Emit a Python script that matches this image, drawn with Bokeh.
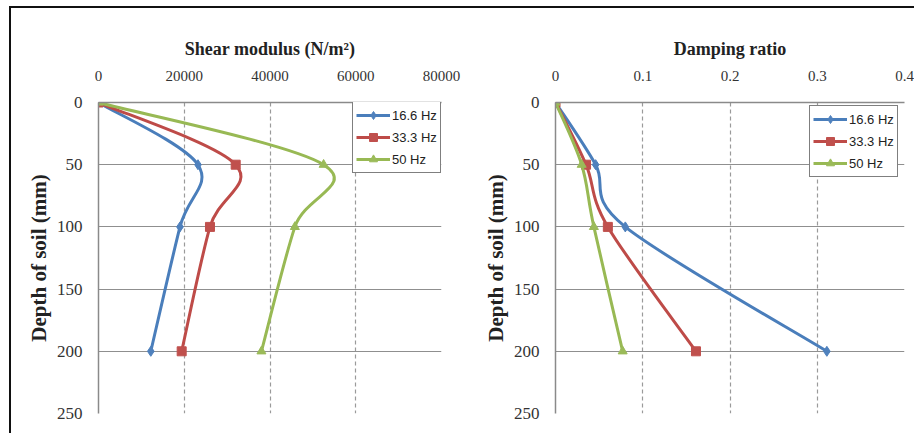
from bokeh.plotting import figure
from bokeh.models import (Range1d, FixedTicker, Legend, LegendItem, ColumnDataSource,
                          NumeralTickFormatter)
from bokeh.layouts import row
from bokeh.embed import file_html
from bokeh.resources import INLINE

# ---- data ----
depth = [0, 50, 100, 200]
series_names = ["16.6 Hz", "33.3 Hz", "50 Hz"]
shear_16 = [0, 23200, 19000, 12200]
shear_33 = [0, 32000, 26000, 19400]
shear_50 = [0, 52500, 45800, 38000]
damp_16 = [0, 0.046, 0.080, 0.311]
damp_33 = [0, 0.035, 0.060, 0.161]
damp_50 = [0, 0.030, 0.044, 0.077]
shear_ticks = [0, 20000, 40000, 60000, 80000]
damp_ticks = [0, 0.1, 0.2, 0.3, 0.4]
depth_ticks = [0, 50, 100, 150, 200, 250]

line_colors = ["#4A7EBB", "#BE4B48", "#98B954"]
marker_colors = ["#4F81BD", "#C0504D", "#9BBB59"]
markers = ["diamond", "square", "triangle"]
marker_sizes = [10, 9, 9]


def smooth_source(xs, ys):
    """Excel-like smoothed line: cubic Bezier segments through the data points."""
    n = len(xs)
    d = dict(x0=[], y0=[], x1=[], y1=[], cx0=[], cy0=[], cx1=[], cy1=[])
    for i in range(n - 1):
        im = i - 1 if i > 0 else i
        i2 = i + 2 if i + 2 < n else i + 1
        d["x0"].append(xs[i]); d["y0"].append(ys[i])
        d["x1"].append(xs[i + 1]); d["y1"].append(ys[i + 1])
        d["cx0"].append(xs[i] + (xs[i + 1] - xs[im]) / 6.0)
        d["cy0"].append(ys[i] + (ys[i + 1] - ys[im]) / 6.0)
        d["cx1"].append(xs[i + 1] - (xs[i2] - xs[i]) / 6.0)
        d["cy1"].append(ys[i + 1] - (ys[i2] - ys[i]) / 6.0)
    return ColumnDataSource(d)


SERIF = "Liberation Serif"
NAN = float("nan")


def make_fig(title, xmax, xticks, fmt, series, min_left, frame_w, min_right, leg_loc):
    p = figure(frame_width=frame_w, frame_height=311,
               min_border_left=min_left, min_border_right=min_right,
               min_border_top=94, min_border_bottom=20,
               x_range=Range1d(0, xmax), y_range=Range1d(250, 0),
               x_axis_location="above", output_backend="svg",
               toolbar_location=None, background_fill_color="white",
               border_fill_color="white", outline_line_color=None)
    p.title.text = title
    p.title.align = "center"
    p.title.text_font = SERIF
    p.title.text_font_style = "bold"
    p.title.text_font_size = "18px"
    p.title.text_color = "#222222"
    p.title.standoff = 17

    xa = p.xaxis[0]
    xa.ticker = FixedTicker(ticks=xticks)
    xa.formatter = NumeralTickFormatter(format=fmt)
    xa.major_label_text_font = SERIF
    xa.major_label_text_font_size = "15px"
    xa.major_label_text_color = "#333333"
    xa.major_label_standoff = 16
    xa.major_tick_line_color = None
    xa.minor_tick_line_color = None
    xa.axis_line_color = "#8a8a8a"
    xa.axis_line_width = 1.5

    ya = p.yaxis[0]
    ya.ticker = FixedTicker(ticks=depth_ticks)
    ya.major_label_text_font = SERIF
    ya.major_label_text_font_size = "17px"
    ya.major_label_text_color = "#333333"
    ya.major_label_standoff = 10
    ya.major_tick_line_color = None
    ya.minor_tick_line_color = None
    ya.axis_line_color = "#8a8a8a"
    ya.axis_line_width = 1.5
    ya.axis_label = "Depth of soil (mm)"
    ya.axis_label_text_font = SERIF
    ya.axis_label_text_font_style = "bold"
    ya.axis_label_text_font_size = "21px"
    ya.axis_label_text_color = "#222222"
    ya.axis_label_standoff = 3

    p.xgrid.ticker = FixedTicker(ticks=xticks[1:])
    p.xgrid.grid_line_color = "#9a9a9a"
    p.xgrid.grid_line_dash = "4 3"
    p.xgrid.grid_line_width = 1.2
    p.ygrid.ticker = FixedTicker(ticks=depth_ticks[1:])
    p.ygrid.grid_line_color = "#8f8f8f"
    p.ygrid.grid_line_width = 1.2

    items = []
    for k, xs in enumerate(series):
        p.bezier(x0="x0", y0="y0", x1="x1", y1="y1", cx0="cx0", cy0="cy0",
                 cx1="cx1", cy1="cy1", source=smooth_source(xs, depth),
                 line_color=line_colors[k], line_width=3)
        sc = p.scatter(xs, depth, marker=markers[k], size=marker_sizes[k],
                       fill_color=marker_colors[k], line_color=marker_colors[k])
        leg_line = p.line(x=[NAN], y=[NAN], line_color=line_colors[k], line_width=3)
        items.append(LegendItem(label=series_names[k], renderers=[leg_line, sc]))

    leg = Legend(items=items, location=leg_loc, border_line_color="black",
                 border_line_width=1, background_fill_color="white",
                 background_fill_alpha=1.0, label_text_font="Liberation Sans",
                 label_text_font_size="13px", label_text_color="#222222",
                 glyph_width=34, glyph_height=20, label_height=20,
                 label_standoff=2, padding=3, spacing=2, margin=0)
    p.add_layout(leg, "center")
    return p


p1 = make_fig("Shear modulus (N/m\u00b2)", 80000, shear_ticks, "0",
              [shear_16, shear_33, shear_50], 87, 343, 20, (254, 240))
p2 = make_fig("Damping ratio", 0.4, damp_ticks, "0.[0]",
              [damp_16, damp_33, damp_50], 94, 349, 10, (254, 236))

layout = row(p1, p2, styles={"border-top": "2px solid #111111",
                             "border-left": "2px solid #111111",
                             "margin-top": "6px", "margin-left": "9px"})

open("out.html", "w").write(file_html(layout, INLINE))
